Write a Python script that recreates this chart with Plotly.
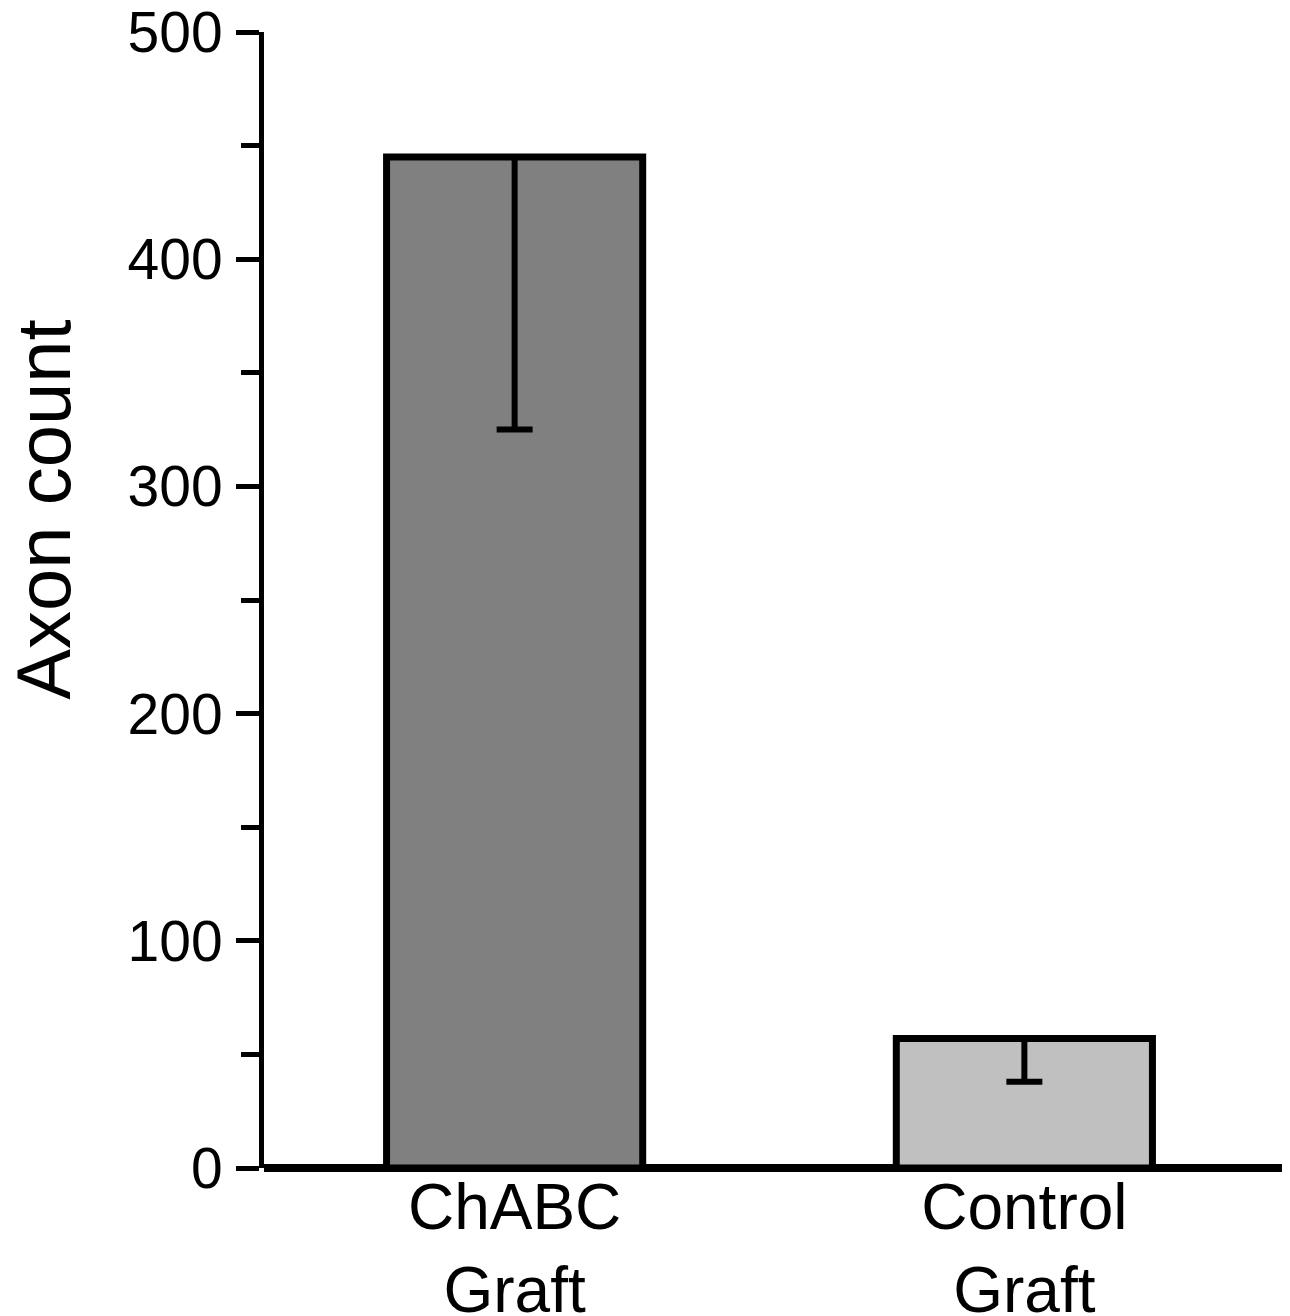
import plotly.graph_objects as go

# Data
categories = ["ChABC<br>Graft", "Control<br>Graft"]
axon_count = [445, 57]
error_minus = [120, 19]
error_plus = [0, 0]
bar_colors = ["#808080", "#c0c0c0"]
y_tick_vals = [0, 100, 200, 300, 400, 500]
y_tick_text = ["0", "100", "200", "300", "400", "500"]
y_title = "Axon count"

FONT = "Liberation Sans, Arial, Helvetica, sans-serif"

fig = go.Figure()
fig.add_trace(go.Bar(
    x=categories,
    y=axon_count,
    width=0.5025,
    marker=dict(color=bar_colors, line=dict(color="black", width=7)),
    error_y=dict(type="data", symmetric=False, array=error_plus,
                 arrayminus=error_minus, color="black", thickness=6, width=18),
    showlegend=False,
))

fig.update_layout(
    width=1282, height=1308,
    margin=dict(l=256, r=5, t=24, b=148, pad=0),
    paper_bgcolor="white", plot_bgcolor="white",
    font=dict(family=FONT, color="black"),
    xaxis=dict(
        type="category", automargin=False,
        range=[-0.4917, 1.5113],
        showline=False, showgrid=False, zeroline=False,
        ticks="", tickfont=dict(size=64, family=FONT, color="black"),
        ticklabelstandoff=-4, ticklabeloverflow="allow",
    ),
    yaxis=dict(
        range=[0, 500], automargin=False,
        tickvals=y_tick_vals, ticktext=y_tick_text,
        showline=True, linewidth=5, linecolor="black",
        ticks="outside", ticklen=23, tickwidth=5, tickcolor="black",
        tickfont=dict(size=57, family=FONT, color="black"),
        showgrid=False,
        zeroline=True, zerolinecolor="black", zerolinewidth=8,
        minor=dict(dtick=50, ticks="outside", ticklen=18, tickwidth=5,
                   tickcolor="black", showgrid=False),
        ticklabelstandoff=2, ticklabeloverflow="allow",
    ),
    annotations=[dict(
        text=y_title, textangle=-90, showarrow=False,
        xref="paper", yref="paper", x=0, y=0.5795,
        xanchor="center", yanchor="middle", xshift=-220,
        font=dict(size=76, family=FONT, color="black"),
    )],
)

fig.write_html("out.html")
